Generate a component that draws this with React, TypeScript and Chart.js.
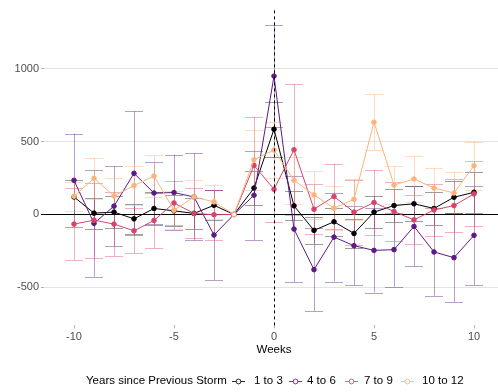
import React, { useEffect, useRef } from "react";
import { Chart, registerables } from "chart.js";

Chart.register(...registerables);

// ---- Data ----
const weeks = [-10, -9, -8, -7, -6, -5, -4, -3, -2, -1, 0, 1, 2, 3, 4, 5, 6, 7, 8, 9, 10];
const seriesNames = ["1 to 3", "4 to 6", "7 to 9", "10 to 12"];

const mean1to3 = [120, 9, 16, -30, 41, 25, 7, 63, 0, 181, 584, 59, -109, -50, -130, 16, 61, 73, 41, 118, 152];
const ci1to3 = [114, 107, 110, 103, 110, 105, 105, 102, 0, 117, 188, 100, 91, 95, 102, 110, 111, 120, 113, 110, 140];

const mean4to6 = [234, -61, 57, 282, 147, 150, 120, -141, 0, 132, 948, -100, -378, -155, -214, -246, -241, -82, -257, -296, -143];
const ci4to6 = [320, 365, 272, 425, 212, 259, 298, 307, 0, 305, 350, 363, 284, 305, 271, 289, 253, 274, 300, 304, 341];

const mean7to9 = [-66, -39, -66, -112, -41, 79, 7, -2, 0, 336, 173, 443, 36, 123, 16, 82, 20, -37, 31, 61, 141];
const ci7to9 = [246, 257, 221, 154, 191, 152, 171, 173, 0, 334, 223, 448, 170, 225, 223, 225, 200, 168, 180, 180, 222];

const mean10to12 = [125, 248, 127, 198, 263, 29, 120, 86, 0, 375, 441, 234, 134, 43, 104, 632, 202, 243, 181, 147, 334];
const ci10to12 = [100, 141, 125, 133, 146, 130, 114, 114, 0, 205, 191, 162, 163, 150, 140, 191, 129, 157, 139, 146, 164];

const xTicks = [-10, -5, 0, 5, 10];
const yTicks = [-500, 0, 500, 1000];
const refWeek = -2;

const colors = ["#000004", "#5C1A83", "#D5446D", "#FDB47C"];
const errColors = ["rgba(0,0,4,0.38)", "rgba(92,26,131,0.42)", "rgba(213,68,109,0.42)", "rgba(253,180,124,0.45)"];

const means = [mean1to3, mean4to6, mean7to9, mean10to12];
const cis = [ci1to3, ci4to6, ci7to9, ci10to12];

const FONT = "'Liberation Sans', Arial, sans-serif";

const overlayPlugin = {
  id: "overlay",
  beforeDatasetsDraw(chart: any) {
    const { ctx, chartArea, scales } = chart;
    const xs = scales.x;
    const ys = scales.y;
    ctx.save();
    ctx.lineWidth = 1;
    // error bars
    for (let s = 0; s < means.length; s++) {
      ctx.strokeStyle = errColors[s];
      for (let j = 0; j < weeks.length; j++) {
        const c = cis[s][j];
        if (!c) continue;
        const m = means[s][j];
        const px = xs.getPixelForValue(weeks[j]);
        const x0 = xs.getPixelForValue(weeks[j] - 0.45);
        const x1 = xs.getPixelForValue(weeks[j] + 0.45);
        const yt = ys.getPixelForValue(m + c);
        const yb = ys.getPixelForValue(m - c);
        ctx.beginPath();
        ctx.moveTo(Math.round(px) + 0.5, yt);
        ctx.lineTo(Math.round(px) + 0.5, yb);
        ctx.moveTo(x0, Math.round(yt) + 0.5);
        ctx.lineTo(x1, Math.round(yt) + 0.5);
        ctx.moveTo(x0, Math.round(yb) + 0.5);
        ctx.lineTo(x1, Math.round(yb) + 0.5);
        ctx.stroke();
      }
    }
    // horizontal zero line
    const y0 = Math.round(ys.getPixelForValue(0)) + 0.5;
    ctx.strokeStyle = "#000000";
    ctx.beginPath();
    ctx.moveTo(chartArea.left, y0);
    ctx.lineTo(chartArea.right, y0);
    ctx.stroke();
    ctx.restore();
  },
  afterDatasetsDraw(chart: any) {
    const { ctx, chartArea, scales } = chart;
    const vx = Math.round(scales.x.getPixelForValue(0)) + 0.5;
    ctx.save();
    ctx.strokeStyle = "#000000";
    ctx.lineWidth = 1;
    ctx.setLineDash([3, 3]);
    ctx.beginPath();
    ctx.moveTo(vx, chartArea.top);
    ctx.lineTo(vx, chartArea.bottom);
    ctx.stroke();
    ctx.restore();
  },
  afterDraw(chart: any) {
    const { ctx, chartArea } = chart;
    ctx.save();
    // axis title
    ctx.fillStyle = "#000000";
    ctx.font = `11.5px ${FONT}`;
    ctx.textAlign = "center";
    ctx.textBaseline = "middle";
    ctx.fillText("Weeks", chart.scales.x.getPixelForValue(0), 350);
    // legend
    const ly = 381;
    ctx.textAlign = "left";
    ctx.fillText("Years since Previous Storm", 86, ly);
    const keyX = [232, 289, 345, 401];
    const labX = [254, 307, 364, 422];
    for (let s = 0; s < seriesNames.length; s++) {
      ctx.strokeStyle = colors[s];
      ctx.globalAlpha = 0.85;
      ctx.lineWidth = 1;
      ctx.beginPath();
      ctx.moveTo(keyX[s], ly + 0.5);
      ctx.lineTo(keyX[s] + 13, ly + 0.5);
      ctx.stroke();
      ctx.beginPath();
      ctx.arc(keyX[s] + 6.5, ly + 0.5, 2.4, 0, Math.PI * 2);
      ctx.fillStyle = "#ffffff";
      ctx.fill();
      ctx.stroke();
      ctx.globalAlpha = 1;
      ctx.fillStyle = "#000000";
      ctx.fillText(seriesNames[s], labX[s], ly);
    }
    ctx.restore();
  },
};

export default function App() {
  const ref = useRef<HTMLCanvasElement>(null);

  useEffect(() => {
    if (!ref.current) return;
    const datasets = means.map((m, s) => ({
      label: seriesNames[s],
      data: weeks.map((w, j) => ({ x: w, y: m[j] })),
      borderColor: colors[s],
      backgroundColor: colors[s],
      pointBackgroundColor: weeks.map((w) => (w === refWeek ? "#ffffff" : colors[s])),
      pointBorderColor: colors[s],
      pointBorderWidth: 1,
      pointRadius: 2.3,
      borderWidth: 1,
      tension: 0,
      order: 4 - s,
    }));
    const chart = new Chart(ref.current, {
      type: "line",
      data: { datasets },
      plugins: [overlayPlugin],
      options: {
        animation: false,
        responsive: false,
        devicePixelRatio: 1,
        layout: { autoPadding: false, padding: { top: 10.4, right: 0, bottom: 0, left: 0 } },
        plugins: { legend: { display: false }, tooltip: { enabled: false } },
        scales: {
          x: {
            type: "linear",
            min: -11.5,
            max: 11.2,
            afterBuildTicks: (scale: any) => {
              scale.ticks = xTicks.map((v) => ({ value: v }));
            },
            afterFit: (scale: any) => {
              scale.height = 66.6;
            },
            border: { display: false },
            grid: { drawOnChartArea: false, drawTicks: true, tickLength: 3, tickColor: "#b3b3b3" },
            ticks: {
              color: "#4d4d4d",
              font: { family: FONT, size: 11 },
              padding: 2,
              maxRotation: 0,
              autoSkip: false,
              callback: (v: any) => String(v),
            },
          },
          y: {
            type: "linear",
            min: -760,
            max: 1398,
            afterBuildTicks: (scale: any) => {
              scale.ticks = yTicks.map((v) => ({ value: v }));
            },
            afterFit: (scale: any) => {
              scale.width = 44;
            },
            border: { display: false },
            grid: {
              color: (c: any) => (c.tick && c.tick.value === 0 ? "rgba(0,0,0,0)" : "#e3e3e3"),
              tickColor: (c: any) => (c.tick && c.tick.value === 0 ? "#000000" : "#b3b3b3"),
              drawTicks: true,
              tickLength: 3,
              lineWidth: 1,
            },
            ticks: {
              color: "#4d4d4d",
              font: { family: FONT, size: 11 },
              padding: 2,
              callback: (v: any) => String(v),
            },
          },
        },
      },
    });
    return () => chart.destroy();
  }, []);

  return (
    <div style={{ position: "fixed", left: 0, top: 0, width: 498, height: 392, background: "#ffffff" }}>
      <canvas ref={ref} width={498} height={392} style={{ display: "block" }} />
    </div>
  );
}
